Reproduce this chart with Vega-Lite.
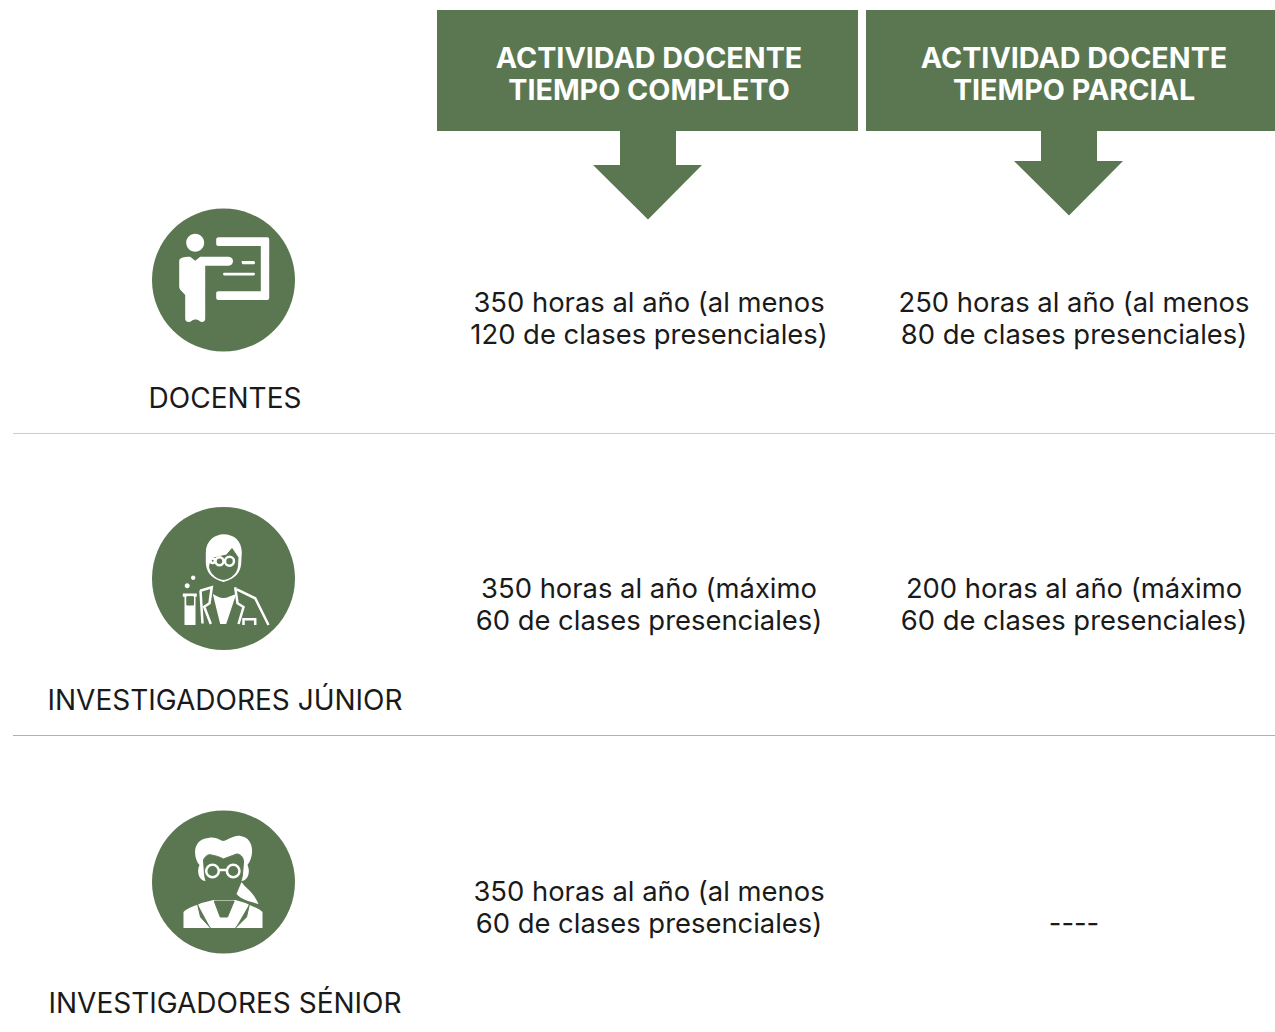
{
"$schema":"https://vega.github.io/schema/vega-lite/v6.json",
"width":1275,"height":1032,
"autosize":{"type":"fit","contains":"padding"},
"padding":0,
"background":"white",
"config":{"view":{"stroke":null}},
"datasets":{
"perfiles":[{"fila":1,"perfil":"DOCENTES"},{"fila":2,"perfil":"INVESTIGADORES JÚNIOR"},{"fila":3,"perfil":"INVESTIGADORES SÉNIOR"}],
"cabeceras":[{"columna":1,"titulo":"ACTIVIDAD DOCENTE\nTIEMPO COMPLETO"},{"columna":2,"titulo":"ACTIVIDAD DOCENTE\nTIEMPO PARCIAL"}],
"actividad":[
{"fila":1,"columna":1,"texto":"350 horas al año (al menos\n120 de clases presenciales)"},
{"fila":1,"columna":2,"texto":"250 horas al año (al menos\n80 de clases presenciales)"},
{"fila":2,"columna":1,"texto":"350 horas al año (máximo\n60 de clases presenciales)"},
{"fila":2,"columna":2,"texto":"200 horas al año (máximo\n60 de clases presenciales)"},
{"fila":3,"columna":1,"texto":"350 horas al año (al menos\n60 de clases presenciales)"},
{"fila":3,"columna":2,"texto":" \n----"}],
"separadores":[{"linea":1,"extremo":"inicio"},{"linea":1,"extremo":"fin"},{"linea":2,"extremo":"inicio"},{"linea":2,"extremo":"fin"}]
},
"resolve":{"scale":{"x":"independent","y":"independent","shape":"independent","color":"independent"}},
"layer":[
{"data":{"name":"cabeceras"},
 "mark":{"type":"point","filled":true,"opacity":1,"size":4,"color":"#5A7752"},
 "encoding":{
  "x":{"field":"columna","type":"quantitative","axis":null,"scale":{"domain":[1,2],"range":[649,1074]}},
  "y":{"field":"columna","type":"quantitative","axis":null,"scale":{"domain":[1,2],"range":[70.5,70.5]}},
  "shape":{"field":"columna","type":"nominal","legend":null,"scale":{"domain":[1,2],"range":[
   "M-212,-60.5L209,-60.5L209,60.5L27,60.5L27,94.5L53,94.5L-1,149L-56,94.5L-29,94.5L-29,60.5L-212,60.5Z",
   "M-208,-60.5L201,-60.5L201,60.5L23,60.5L23,90.5L49,90.5L-5,145L-60,90.5L-33,90.5L-33,60.5L-208,60.5Z"]}}
 }},
{"data":{"name":"cabeceras"},
 "mark":{"type":"text","fontSize":28.7,"fontWeight":700,"font":"Inter","color":"white","lineHeight":32,"lineBreak":"\n","align":"center","baseline":"middle"},
 "encoding":{
  "x":{"field":"columna","type":"quantitative","axis":null,"scale":{"domain":[1,2],"range":[649,1074]}},
  "y":{"field":"columna","type":"quantitative","axis":null,"scale":{"domain":[1,2],"range":[59,59]}},
  "text":{"field":"titulo"}
 }},
{"data":{"name":"separadores"},
 "mark":{"type":"line","strokeWidth":1},
 "encoding":{
  "x":{"field":"extremo","type":"nominal","axis":null,"scale":{"type":"point","padding":0,"domain":["inicio","fin"],"range":[13,1275]}},
  "y":{"field":"linea","type":"quantitative","axis":null,"scale":{"domain":[1,2],"range":[433.5,735.5]}},
  "color":{"field":"linea","type":"nominal","legend":null,"scale":{"domain":[1,2],"range":["#C9CCDF","#A8B1C2"]}}
 }},
{"data":{"name":"perfiles"},
 "mark":{"type":"point","filled":true,"opacity":1,"size":20449,"shape":"circle","color":"#5A7752"},
 "encoding":{
  "x":{"datum":0,"type":"quantitative","axis":null,"scale":{"domain":[0,1],"range":[223.5,224.5]}},
  "y":{"field":"fila","type":"quantitative","axis":null,"scale":{"domain":[1,2,3],"range":[280,578.5,882]}}
 }},
{"data":{"name":"perfiles"},
 "mark":{"type":"point","filled":true,"opacity":1,"size":4,"color":"white"},
 "encoding":{
  "x":{"datum":0,"type":"quantitative","axis":null,"scale":{"domain":[0,1],"range":[223.5,224.5]}},
  "y":{"field":"fila","type":"quantitative","axis":null,"scale":{"domain":[1,2,3],"range":[280,578.5,882]}},
  "shape":{"field":"fila","type":"nominal","legend":null,"scale":{"domain":[1,2,3],"range":[
   "M-37.3,-37.3A9,9 0 1,1 -19.3,-37.3A9,9 0 1,1 -37.3,-37.3Z M-44.3,-19C-44.3,-22 -40,-23.3 -33.3,-23.3L-28.3,-19.3L-23.3,-23.3L5,-23.3C8,-23.3 9.5,-21 9.5,-19C9.5,-16.5 8,-14.3 5,-14.3L-18.3,-14.3L-18.3,39C-18.3,42 -22,43 -24,41C-26,39 -30,39 -32,41C-34,43 -38.3,42 -38.3,39L-38.3,15L-42,11C-44,9 -44.3,8 -44.3,6Z M-7.3,-40.7C-7.3,-42 -6,-42.7 -5,-42.7L43.7,-42.7C45,-42.7 45.7,-42 45.7,-40.7L45.7,18C45.7,19.3 45,20 43.7,20L-5,20C-6.5,20 -7.3,19 -7.3,18L-7.3,13C-7.3,12 -6.5,11.3 -5,11.3L37.3,11.3L37.3,-34L-5,-34C-6.5,-34 -7.3,-35 -7.3,-36Z M18.3,-19L30,-19C32,-19 32,-15.7 30,-15.7L20,-15.7C18,-15.7 18,-19 18.3,-19Z M1,-7.3L30,-7.3C32,-7.3 32,-4.5 30,-4.5L1,-4.5C-1,-4.5 -1,-7.3 1,-7.3Z",
   "M-17.7,-26C-17.7,-38 -8,-44.2 0,-44.2C10,-44.2 18.3,-38 18.3,-26L17.7,-15C17,-7 13,0 0,3.5C-13,0 -17,-7 -17.7,-15Z M-10.7,15.5L-6,18C-2,20 2,20 6,18L12.7,15.5L2.7,45.5L-3.3,45.5Z M-40.7,15L-26.7,15L-26.7,18.2L-28,18.2L-28,46.5L-39,46.5L-39,18.2L-40.7,18.2Z M-38.8,7.2A2.5,2.5 0 1,1 -33.8,7.2A2.5,2.5 0 1,1 -38.8,7.2Z M-32.5,-0.8A2.2,2.2 0 1,1 -28.1,-0.8A2.2,2.2 0 1,1 -32.5,-0.8Z",
   "M-24,-17C-31,-25 -31,-43 -15,-44C-8,-46 -3,-41 0,-41C5,-42 10,-47 17,-46C31,-44 31,-26 24,-17C27,-11 25,-1 18,-1L-18,-1C-25,-1 -27,-11 -24,-17Z M18,0C22,6 30,10 35,22C28,20 18,18 13,12Z M-40,46L-40,30C-35,25 -28,24 -22,21L-10,18L12,18L22,21C28,24 35,26 39,30L39,46Z"]}}
 }},
{"data":{"name":"perfiles"},
 "mark":{"type":"point","filled":true,"opacity":1,"size":4,"color":"#5A7752","strokeWidth":1},
 "encoding":{
  "x":{"datum":0,"type":"quantitative","axis":null,"scale":{"domain":[0,1],"range":[223.5,224.5]}},
  "y":{"field":"fila","type":"quantitative","axis":null,"scale":{"domain":[1,2,3],"range":[280,578.5,882]}},
  "stroke":{"value":"#5A7752"},
  "shape":{"field":"fila","type":"nominal","legend":null,"scale":{"domain":[1,2,3],"range":[
   "M-28.3,-27.5L-29,-27",
   "M-12,-20L3,-23.5L8.5,-30L14.5,-21L14,-12C13,-5 8,0 0,1C-8,0 -13,-5 -14,-12Z M-36.7,18.2L-30,18.2L-30,26.5L-36.7,26.5Z",
   "M-20,-22C-18,-27 -14,-28 -12,-27C-6,-26 -2,-24 0,-23C2,-24 8,-26 13,-28C17,-28 20,-25 20,-20L19,-8C18,5 8,14 0,14C-8,14 -18,5 -19,-8Z M-9.3,19L-3.3,35L4,35L10.7,19Z M-26,22L-23,35L-13,46 M26,22L23,35L12,46"]}}
 }},
{"data":{"name":"perfiles"},
 "mark":{"type":"point","filled":false,"opacity":1,"size":4,"color":"white","strokeWidth":2.5},
 "encoding":{
  "x":{"datum":0,"type":"quantitative","axis":null,"scale":{"domain":[0,1],"range":[223.5,224.5]}},
  "y":{"field":"fila","type":"quantitative","axis":null,"scale":{"domain":[1,2,3],"range":[280,578.5,882]}},
  "shape":{"field":"fila","type":"nominal","legend":null,"scale":{"domain":[1,2,3],"range":[
   "M-9,-37L-9,-37",
   "M-8,-17.2A4,4 0 1,1 0,-17.2A4,4 0 1,1 -8,-17.2Z M1.5,-17.2A4.5,4.5 0 1,1 10.5,-17.2A4.5,4.5 0 1,1 1.5,-17.2Z M-13,-17.8A2.2,2.2 0 1,1 -8.6,-17.8A2.2,2.2 0 1,1 -13,-17.8Z M-23.3,12.2L-11.7,8.8L-14,24.8L-19.3,28.2L-12.7,45.5 M-23,12L-21,45 M11.7,8.8L14,24.8L20,28.5L15,45.5 M13.3,10.8L31.7,19.8L45,46.5 M20,46.5L20,40.8L31.7,40.8L31.7,46.5",
   "M-17.3,-11A6.3,6.3 0 1,1 -4.7,-11A6.3,6.3 0 1,1 -17.3,-11Z M3.4,-11A6.3,6.3 0 1,1 16,-11A6.3,6.3 0 1,1 3.4,-11Z M-4.7,-12L3.4,-12"]}}
 }},
{"data":{"name":"perfiles"},
 "mark":{"type":"text","fontSize":28,"font":"Inter","color":"#1A1A1A","align":"center","baseline":"middle"},
 "encoding":{
  "x":{"datum":0,"type":"quantitative","axis":null,"scale":{"domain":[0,1],"range":[225,226]}},
  "y":{"field":"fila","type":"quantitative","axis":null,"scale":{"domain":[1,2,3],"range":[400,702,1005]}},
  "text":{"field":"perfil"}
 }},
{"data":{"name":"actividad"},
 "mark":{"type":"text","fontSize":27.4,"font":"Inter","color":"#1A1A1A","lineHeight":32,"lineBreak":"\n","align":"center","baseline":"middle"},
 "encoding":{
  "x":{"field":"columna","type":"quantitative","axis":null,"scale":{"domain":[1,2],"range":[649,1074]}},
  "y":{"field":"fila","type":"quantitative","axis":null,"scale":{"domain":[1,2,3],"range":[303.5,589.5,892.5]}},
  "text":{"field":"texto"}
 }}
]
}
